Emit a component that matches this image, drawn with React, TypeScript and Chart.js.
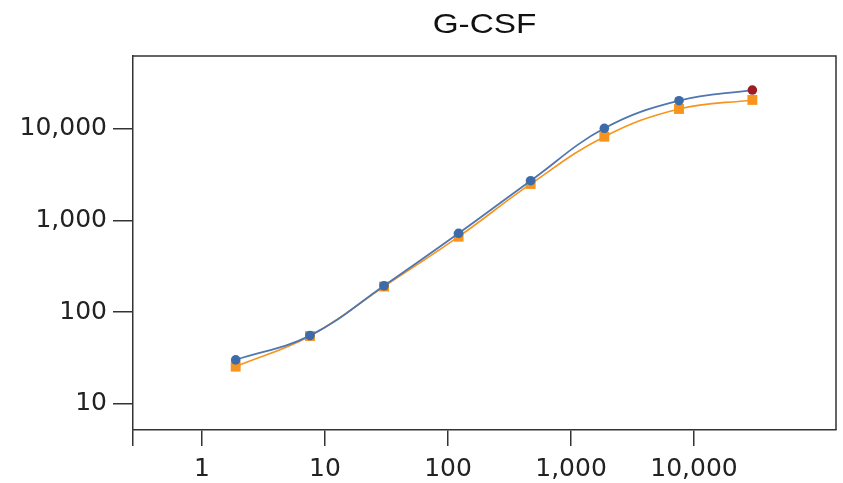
import React, { useEffect, useRef } from "react";
import { Chart, registerables } from "chart.js";

Chart.register(...registerables);

const titleText = "G-CSF";
const concentrations = [1.88, 7.55, 30.2, 122, 470, 1866, 7550, 29800];
const seriesBlue = [30.2, 55.5, 194, 723, 2706, 10070, 20140, 26300];
const seriesOrange = [25.5, 55, 190, 664, 2493, 8160, 16360, 20530];
const xTickValues = [1, 10, 100, 1000, 10000];
const yTickValues = [10, 100, 1000, 10000];

const X_MIN = 0.275;
const X_MAX = 142600;
const Y_MIN = 5.2;
const Y_MAX = 61800;

const FONT = "'DejaVu Sans', sans-serif";
const AXIS_COLOR = "#333333";

const fmt = (v: number) => v.toLocaleString("en-US");

export default function App() {
  const ref = useRef<HTMLCanvasElement | null>(null);

  useEffect(() => {
    if (!ref.current) return;
    const blueColors = seriesBlue.map((_, i) =>
      i === seriesBlue.length - 1 ? "#9e1b22" : "#3d6aa9"
    );

    const framePlugin = {
      id: "frame",
      afterDraw(chart: any) {
        const { ctx, chartArea } = chart;
        ctx.save();
        ctx.strokeStyle = AXIS_COLOR;
        ctx.lineWidth = 1.5;
        ctx.beginPath();
        ctx.moveTo(chartArea.left, chartArea.top);
        ctx.lineTo(chartArea.right, chartArea.top);
        ctx.lineTo(chartArea.right, chartArea.bottom);
        ctx.stroke();
        // title, slightly widened like the reference
        const sx = 1.19;
        const cx = (chartArea.left + chartArea.right) / 2;
        ctx.translate(cx, 33);
        ctx.scale(sx, 1);
        ctx.font = `28px 'Liberation Sans', Arial, sans-serif`;
        ctx.fillStyle = "#111111";
        ctx.textAlign = "center";
        ctx.textBaseline = "alphabetic";
        ctx.fillText(titleText, 0, 0);
        ctx.restore();
      },
    };

    const chart = new Chart(ref.current, {
      type: "line",
      data: {
        datasets: [
          {
            label: "A",
            data: concentrations.map((x, i) => ({ x, y: seriesBlue[i] })),
            borderColor: "#4f76b0",
            borderWidth: 1.8,
            pointBackgroundColor: blueColors,
            pointBorderColor: blueColors,
            pointBorderWidth: 0,
            pointRadius: 4.8,
            pointStyle: "circle",
            tension: 0.4,
            fill: false,
          },
          {
            label: "B",
            data: concentrations.map((x, i) => ({ x, y: seriesOrange[i] })),
            borderColor: "#f7941d",
            borderWidth: 1.6,
            pointBackgroundColor: "#f7941d",
            pointBorderColor: "#f7941d",
            pointBorderWidth: 0,
            pointRadius: 7,
            pointStyle: "rect",
            tension: 0.4,
            fill: false,
          },
        ],
      },
      options: {
        animation: false,
        responsive: true,
        maintainAspectRatio: false,
        layout: { padding: { top: 56, right: 7, left: 0, bottom: 0 } },
        plugins: {
          legend: { display: false },
          title: { display: false },
          tooltip: { enabled: false },
        },
        scales: {
          x: {
            type: "logarithmic",
            position: "bottom",
            min: X_MIN,
            max: X_MAX,
            afterBuildTicks: (scale: any) => {
              scale.ticks = [X_MIN, ...xTickValues].map((v) => ({ value: v }));
            },
            afterFit: (scale: any) => {
              scale.height = 53;
            },
            grid: {
              drawOnChartArea: false,
              drawTicks: true,
              tickLength: 16,
              color: AXIS_COLOR,
              lineWidth: 1.5,
            },
            border: { display: true, color: AXIS_COLOR, width: 1.5 },
            ticks: {
              autoSkip: false,
              maxRotation: 0,
              padding: 8,
              color: "#222222",
              font: { family: FONT, size: 25 },
              callback: (v: any) => (v === X_MIN ? "" : fmt(Number(v))),
            },
          },
          y: {
            type: "logarithmic",
            position: "left",
            min: Y_MIN,
            max: Y_MAX,
            afterBuildTicks: (scale: any) => {
              scale.ticks = yTickValues.map((v) => ({ value: v }));
            },
            afterFit: (scale: any) => {
              scale.width = 133;
            },
            grid: {
              drawOnChartArea: false,
              drawTicks: true,
              tickLength: 20,
              color: AXIS_COLOR,
              lineWidth: 1.5,
            },
            border: { display: true, color: AXIS_COLOR, width: 1.5 },
            ticks: {
              autoSkip: false,
              padding: 6,
              color: "#222222",
              font: { family: FONT, size: 25 },
              callback: (v: any) => fmt(Number(v)),
            },
          },
        },
      },
      plugins: [framePlugin],
    });
    return () => chart.destroy();
  }, []);

  return (
    <div style={{ position: "absolute", left: 0, top: 0, width: 843, height: 483, background: "#ffffff" }}>
      <canvas ref={ref} />
    </div>
  );
}
